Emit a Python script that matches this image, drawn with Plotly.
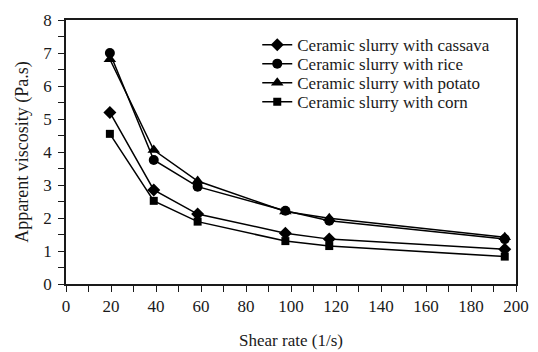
import plotly.graph_objects as go

# Shear rates (1/s) and apparent viscosity (Pa.s) for each starch additive
shear_rate = [19.5, 39.0, 58.5, 97.5, 117.0, 195.0]
cassava = [5.20, 2.85, 2.12, 1.54, 1.36, 1.05]
rice = [7.00, 3.76, 2.95, 2.22, 1.92, 1.36]
potato = [6.81, 4.06, 3.12, 2.20, 1.99, 1.42]
corn = [4.55, 2.52, 1.89, 1.30, 1.15, 0.83]

series = [
    ("Ceramic slurry with cassava", cassava, "diamond", 10),
    ("Ceramic slurry with rice", rice, "circle", 10),
    ("Ceramic slurry with potato", potato, "triangle-up", 11),
    ("Ceramic slurry with corn", corn, "square", 8),
]

serif = "Liberation Serif"
ink = "#1a1a1a"

fig = go.Figure()
legend_layout = {}
for i, (name, values, symbol, size) in enumerate(series):
    key = "legend" if i == 0 else f"legend{i + 1}"
    fig.add_trace(go.Scatter(
        x=shear_rate, y=values, name=name, mode="lines+markers",
        line=dict(color="black", width=1.5),
        marker=dict(symbol=symbol, size=size, color="black"),
        legend=key,
    ))
    # one legend per series so the rows sit closely stacked
    legend_layout[key] = dict(
        x=0.425, y=0.905 - 0.072 * i, xanchor="left", yanchor="middle",
        bgcolor="rgba(0,0,0,0)", borderwidth=0,
        font=dict(family=serif, size=17, color=ink),
        itemwidth=30,
    )

fig.update_layout(
    width=538, height=352,
    margin=dict(l=66, r=22, t=20, b=68),
    paper_bgcolor="white", plot_bgcolor="white",
    font=dict(family=serif, size=16, color=ink),
    showlegend=True,
    **legend_layout,
)

fig.update_xaxes(
    range=[0, 200], tickvals=list(range(0, 201, 20)),
    ticks="outside", ticklen=6, tickwidth=1.2, tickcolor=ink,
    minor=dict(dtick=10, ticks="outside", ticklen=6, tickwidth=1.2, tickcolor=ink, showgrid=False),
    showline=True, linecolor=ink, linewidth=1.5, mirror=True,
    showgrid=False, zeroline=False, automargin=False,
    title=dict(text="Shear rate (1/s)", font=dict(family=serif, size=17, color=ink), standoff=19),
    tickfont=dict(family=serif, size=17, color=ink),
)
fig.update_yaxes(
    range=[0, 8], tickvals=list(range(0, 9)),
    ticks="outside", ticklen=6, tickwidth=1.2, tickcolor=ink,
    minor=dict(dtick=0.5, ticks="outside", ticklen=6, tickwidth=1.2, tickcolor=ink, showgrid=False),
    showline=True, linecolor=ink, linewidth=1.5, mirror=True,
    showgrid=False, zeroline=False, automargin=False,
    ticklabelstandoff=3,
    title=dict(text="Apparent viscosity (Pa.s)", font=dict(family=serif, size=18, color=ink), standoff=10),
    tickfont=dict(family=serif, size=17, color=ink),
)

fig.write_html("out.html")
